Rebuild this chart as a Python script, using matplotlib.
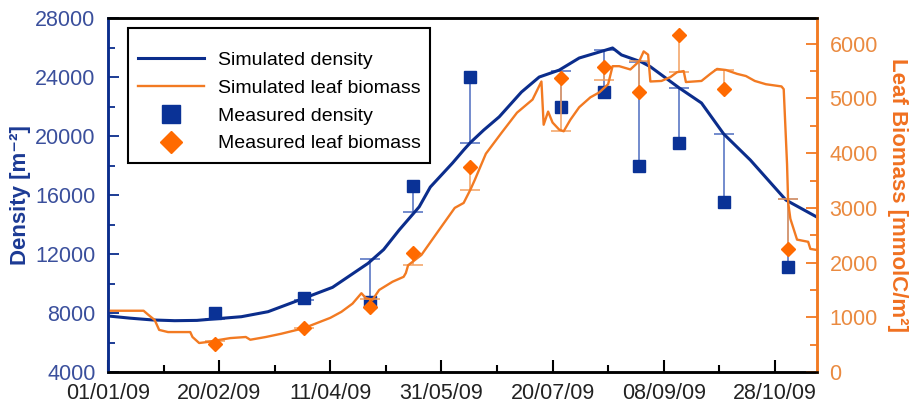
import numpy as np
import matplotlib
matplotlib.use("Agg")
import matplotlib.pyplot as plt
from matplotlib.ticker import MultipleLocator
from matplotlib.patches import Rectangle

plt.rcParams['font.family'] = ['Liberation Sans', 'DejaVu Sans']

# days counted from 01/01/09
tick_days = [0, 50, 100, 150, 200, 250, 300]
tick_labels = ["01/01/09", "20/02/09", "11/04/09", "31/05/09",
               "20/07/09", "08/09/09", "28/10/09"]

# simulated density [m-2]
dens_days = [0, 10, 20, 30, 40, 47, 60, 72, 86, 101, 117, 124, 131, 140, 145,
             155, 160, 163, 169, 176, 186, 194, 203, 212, 224, 227, 231, 240,
             244, 257, 267, 277, 289, 305, 319]
dens_sim = [7800, 7650, 7530, 7480, 7500, 7590, 7750, 8090, 8880, 9740, 11370,
            12300, 13630, 15200, 16540, 18170, 19050, 19550, 20400, 21300,
            22980, 24000, 24470, 25290, 25830, 25970, 25500, 25020, 24700,
            23260, 22240, 20140, 18370, 15660, 14500]

# simulated leaf biomass [mmolC/m2]
leaf_days = [0, 16, 18, 21, 23, 27, 37, 38, 41, 45, 49, 55, 62, 64, 71, 78, 88,
             100, 105, 110, 114, 116, 119, 122, 128, 133, 134, 135, 141, 149,
             156, 160, 163, 165, 170, 177, 184, 191, 195, 196, 198, 200, 203,
             205, 208, 212, 217, 221, 225, 227, 230, 235, 239, 241, 243, 244,
             249, 253, 256, 259, 260, 267, 271, 274, 278, 283, 287, 291, 296,
             303, 304, 305.5, 306, 307, 310, 315, 316, 319]
leaf_sim = [1120, 1120, 1050, 950, 770, 730, 730, 640, 530, 550, 580, 620, 640,
            590, 640, 700, 800, 990, 1100, 1250, 1440, 1350, 1320, 1500, 1650,
            1740, 1810, 1950, 2140, 2600, 3000, 3090, 3330, 3510, 3990, 4370,
            4740, 4980, 5310, 4520, 4760, 4560, 4430, 4400, 4610, 4840, 5020,
            5110, 5260, 5590, 5590, 5530, 5680, 5860, 5800, 5310, 5320, 5390,
            5480, 5500, 5300, 5320, 5450, 5540, 5520, 5450, 5410, 5320, 5260,
            5220, 5170, 3800, 3100, 2800, 2420, 2380, 2250, 2230]

# measurements and the simulated value they are compared with
meas_days = [48, 88, 118, 137, 163, 204, 223, 239, 257, 277, 306]
dens_meas = [8000, 9000, 8750, 16600, 24000, 22000, 23000, 18000, 19500, 15500, 11100]
dens_ref = [7590, 8900, 11660, 14850, 19550, 24400, 25830, 25000, 23260, 20140, 15700]
leaf_meas = [520, 800, 1190, 2180, 3750, 5380, 5580, 5110, 6160, 5170, 2250]
leaf_ref = [560, 800, 1330, 1960, 3330, 4400, 5340, 5680, 5490, 5520, 3160]

BLUE = "#0b2d8c"
BLUE_MK = "#0a3296"
BLUE_BAR = "#4d6cc0"
BLUE_TXT = "#3a4f9c"
ORANGE = "#f27a22"
ORANGE_MK = "#ff6a00"
ORANGE_BAR = "#f3a060"
ORANGE_TXT = "#ea8a40"

fig = plt.figure(figsize=(9.17, 4.08), dpi=100)
ax = fig.add_axes([0.1178, 0.0882, 0.7732, 0.8676])
ax2 = ax.twinx()

# error bars (measured -> simulated)
ax.vlines(meas_days, dens_meas, dens_ref, color=BLUE_BAR, lw=1.1)
ax.plot(meas_days, dens_ref, ls="none", marker="_", ms=14, mew=1.1, color=BLUE_BAR)
ax2.vlines(meas_days, leaf_meas, leaf_ref, color=ORANGE_BAR, lw=1.1)
ax2.plot(meas_days, leaf_ref, ls="none", marker="_", ms=14, mew=1.1, color=ORANGE_BAR)

l1, = ax.plot(dens_days, dens_sim, color=BLUE, lw=2.2, label="Simulated density")
l2, = ax2.plot(leaf_days, leaf_sim, color=ORANGE, lw=1.7, label="Simulated leaf biomass")
m1, = ax.plot(meas_days, dens_meas, ls="none", marker="s", ms=8.5, color=BLUE_MK,
              label="Measured density")
m2, = ax2.plot(meas_days, leaf_meas, ls="none", marker="D", ms=7.5, color=ORANGE_MK,
               label="Measured leaf biomass")

ax.set_xlim(0, 319)
ax.set_ylim(4000, 28000)
ax2.set_ylim(0, 6470)

ax.set_xticks(tick_days)
ax.set_xticklabels(tick_labels)
ax.xaxis.set_minor_locator(MultipleLocator(25))
ax.yaxis.set_major_locator(MultipleLocator(4000))
ax.yaxis.set_minor_locator(MultipleLocator(2000))
ax2.set_yticks([0, 1000, 2000, 3000, 4000, 5000, 6000])
ax2.yaxis.set_minor_locator(MultipleLocator(500))

ax.tick_params(axis="x", which="major", direction="in", length=9, width=1.5,
               labelsize=15.5, color="black", labelcolor="#222222", pad=8)
ax.tick_params(axis="x", which="minor", direction="in", length=5, width=1.5, color="black")
ax.tick_params(axis="y", which="major", direction="in", length=8, width=1.3,
               labelsize=15.5, color=BLUE, labelcolor=BLUE_TXT, pad=9)
ax.tick_params(axis="y", which="minor", direction="in", length=5, width=1.3, color=BLUE)
ax2.tick_params(axis="y", which="major", direction="in", length=8, width=1.3,
                labelsize=15.5, color=ORANGE, labelcolor=ORANGE_TXT, pad=9)
ax2.tick_params(axis="y", which="minor", direction="in", length=5, width=1.3, color=ORANGE)

for a in (ax, ax2):
    a.spines["top"].set_color("black")
    a.spines["bottom"].set_color("black")
    a.spines["left"].set_color(BLUE)
    a.spines["right"].set_color(ORANGE)
    for s in a.spines.values():
        s.set_linewidth(1.8)

ax.set_ylabel("Density [m⁻²]", color="#1c3a94", fontsize=16, fontweight="bold",
              labelpad=3)
ax2.set_ylabel("Leaf Biomass [mmolC/m²]", color="#f07020", fontsize=16,
               fontweight="bold", rotation=270, labelpad=22)

# legend box drawn separately so the padding matches the original
box = Rectangle((0.028, 0.590), 0.426, 0.382, transform=ax2.transAxes,
                facecolor="white", edgecolor="black", lw=1.5, zorder=4)
ax2.add_patch(box)
leg = ax2.legend(handles=[l1, l2, m1, m2], loc="upper left",
                 bbox_to_anchor=(0.0423, 0.905), borderaxespad=0, fontsize=14,
                 frameon=False, handlelength=3.4, handletextpad=0.7,
                 labelspacing=0.52, borderpad=0, markerscale=1.5)
leg.set_zorder(5)

fig.savefig("out.png", dpi=100)
